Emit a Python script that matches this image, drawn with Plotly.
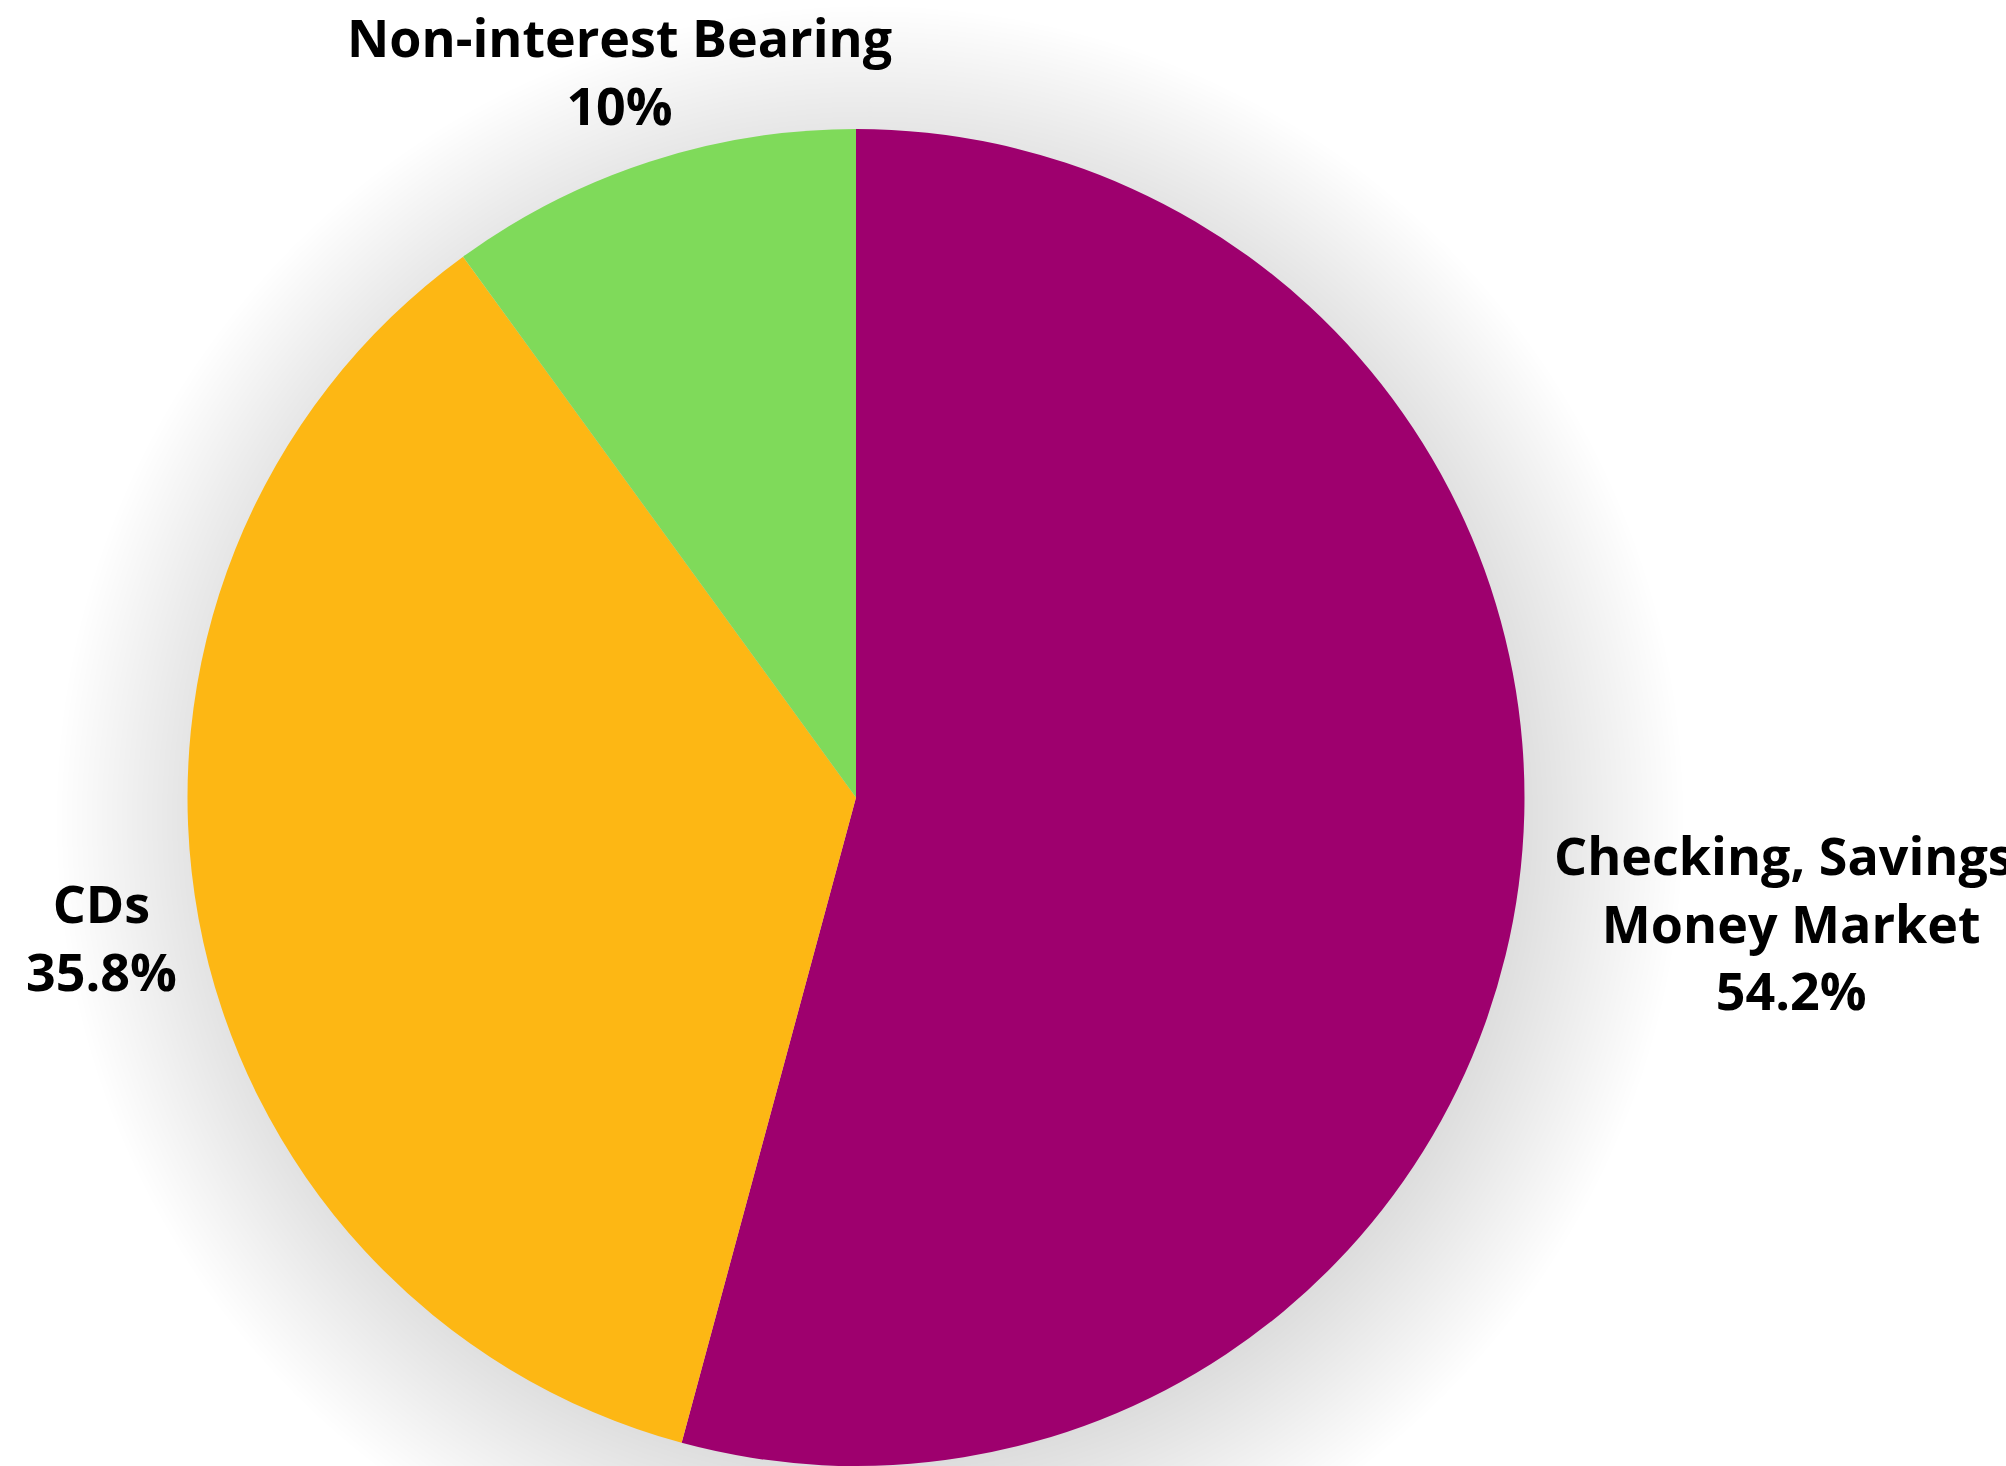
import math
import plotly.graph_objects as go

# ---- data ----
categories = ["Checking, Savings, Money Market", "CDs", "Non-interest Bearing"]
label_lines = ["Checking, Savings,<br>Money Market", "CDs", "Non-interest Bearing"]
values = [54.2, 35.8, 10]
colors = ["#9E006E", "#FDB714", "#7FDA5A"]

# ---- layout geometry (pixels) ----
W, H = 2006, 1466
pie_left, pie_right, pie_top = 187, 1525, 129
label_dist = [944, 767, 764]          # distance of label centre from pie centre
label_dy = [0, 0, 0]

fig = go.Figure()
fig.add_trace(go.Pie(
    labels=categories,
    values=values,
    sort=False,
    direction="clockwise",
    rotation=0,
    textinfo="none",
    hoverinfo="label+percent",
    marker=dict(colors=colors, line=dict(width=0)),
    domain=dict(x=[pie_left / W, pie_right / W], y=[0, 1 - pie_top / H]),
    showlegend=False,
))

# pie geometry as plotly computes it
dom_w = pie_right - pie_left
dom_h = H - pie_top
r = min(dom_w, dom_h) / 2
cx = (pie_left + pie_right) / 2
cy = pie_top + dom_h / 2

# ---- soft drop shadow behind the pie (stack of faint circles) ----
def phi(z):
    return 0.5 * (1 + math.erf(z / math.sqrt(2)))

A, sigma, ox, oy = 0.25, 115.0, 14, 22
step = 5
ds = list(range(-90, 430, step))
D = [A * phi(-(d - step / 2) / sigma) for d in ds] + [0.0]
shapes = []
for k, d in enumerate(ds):
    a = 1 - (1 - D[k]) / (1 - D[k + 1])
    R = r + d
    shapes.append(dict(
        type="circle", xref="paper", yref="paper", layer="below",
        x0=(cx + ox - R) / W, x1=(cx + ox + R) / W,
        y0=1 - (cy + oy + R) / H, y1=1 - (cy + oy - R) / H,
        fillcolor=f"rgba(0,0,0,{a:.5f})", line=dict(width=0),
    ))

# ---- outside labels placed along each slice's mid-angle ----
annotations = []
total = sum(values)
cum = 0.0
for i, v in enumerate(values):
    mid = (cum + v / 2) / total * 2 * math.pi
    cum += v
    px = cx + label_dist[i] * math.sin(mid)
    py = cy - label_dist[i] * math.cos(mid) + label_dy[i]
    annotations.append(dict(
        x=px / W, y=1 - py / H, xref="paper", yref="paper",
        xanchor="center", yanchor="middle", showarrow=False,
        text=f"{label_lines[i]}<br>{v:g}%",
        font=dict(family="Open Sans", size=52, color="#000000", weight="bold"),
        align="center",
    ))

fig.update_layout(
    width=W, height=H,
    margin=dict(l=0, r=0, t=0, b=0),
    paper_bgcolor="#FFFFFF",
    plot_bgcolor="#FFFFFF",
    shapes=shapes,
    annotations=annotations,
)

fig.write_html("out.html")
